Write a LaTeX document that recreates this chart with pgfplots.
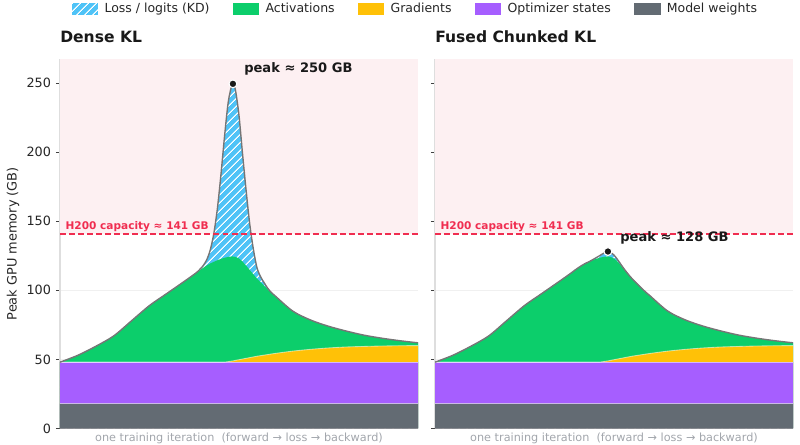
\documentclass[border=0pt]{standalone}
\usepackage{fontspec}
\setmainfont{DejaVu Sans}
\usepackage{pgfplots}
\pgfplotsset{compat=1.18}
\usepackage{pgfplotstable}
\usetikzlibrary{patterns.meta}

\definecolor{lossblue}{HTML}{4FC3F7}
\definecolor{actgreen}{HTML}{0CCE6B}
\definecolor{gradyellow}{HTML}{FFC107}
\definecolor{optpurple}{HTML}{A65EFF}
\definecolor{wgray}{HTML}{636B73}
\definecolor{capred}{HTML}{F02D50}
\definecolor{capshade}{HTML}{FDF0F2}
\definecolor{edgegray}{HTML}{767676}
\definecolor{xlab}{HTML}{A2A6AC}

\pgfplotstableread{
x W O Gr G Td Tf
0.00 18 48 48 48 48 48
0.05 18 48 48 53 53 53
0.10 18 48 48 59.5 59.5 59.5
0.15 18 48 48 67 67 67
0.20 18 48 48 78 78 78
0.25 18 48 48 89 89 89
0.30 18 48 48 98 98 98
0.35 18 48 48 107 107 107
0.38 18 48 48 112.5 112.6 112.5
0.39 18 48 48 114.5 115 114.5
0.40 18 48 48 116.3 117.9 116.3
0.41 18 48 48 118 122.2 118
0.42 18 48 48 119.5 129.5 119.5
0.43 18 48 48 120.7 141.6 120.7
0.44 18 48 48 121.8 160 122.1
0.45 18 48 48 122.8 184.9 123.6
0.46 18 48 48 123.6 212.5 125.1
0.47 18 48 48.4 124.2 236.4 126.7
0.48 18 48 48.8 124.5 248.8 127.8
0.483 18 48 48.9 124.5 249.5 128.1
0.49 18 48 49.3 124.2 245.1 127.5
0.50 18 48 49.8 123 226.5 125.5
0.51 18 48 50.3 120.7 198.5 122.2
0.52 18 48 50.8 117.8 172 118.5
0.53 18 48 51.3 114.7 148 114.9
0.54 18 48 51.8 111.6 130 111.6
0.55 18 48 52.3 108.6 116.6 108.6
0.56 18 48 52.7 105.9 110 105.9
0.57 18 48 53.1 103.3 105.6 103.3
0.58 18 48 53.5 100.8 101.6 100.8
0.59 18 48 53.9 98.4 98.5 98.4
0.60 18 48 54.3 96.2 96.2 96.2
0.65 18 48 56 85 85 85
0.70 18 48 57.3 78.5 78.5 78.5
0.75 18 48 58.3 74 74 74
0.80 18 48 59 70.5 70.5 70.5
0.85 18 48 59.4 67.5 67.5 67.5
0.90 18 48 59.7 65.3 65.3 65.3
0.95 18 48 59.9 63.5 63.5 63.5
1.00 18 48 60 62 62 62
}\memdata

\pgfplotsset{
  panel/.style={
    width=257.76pt, height=266.04pt, scale only axis,
    xmin=0, xmax=1, ymin=0, ymax=267.5,
    xtick=\empty,
    ytick={0,50,100,150,200,250},
    axis x line*=bottom, axis y line*=left,
    x axis line style={draw=black!35, line width=0.8pt, -},
    y axis line style={draw=black!13, line width=0.8pt, -},
    tick align=outside,
    major tick length=3pt,
    ytick style={black!75, line width=0.6pt},
    ymajorgrids, grid style={black!6, line width=0.6pt},
    tick label style={font=\fontsize{9.2}{10}\selectfont, text=black!85},
    /pgf/number format/assume math mode=true,
    title style={at={(axis description cs:0,1)}, anchor=base west, inner sep=0pt, yshift=5.8pt, font=\fontsize{11.2}{13}\selectfont\bfseries, text=black!90},
    xlabel style={at={(axis description cs:0.5,0)}, anchor=north, inner sep=0pt, yshift=-3.2pt, font=\fontsize{8.1}{10}\selectfont, text=xlab},
    xlabel={one training iteration~~(forward → loss → backward)},
  },
  lossstyle/.style={fill=lossblue, draw=none, postaction={pattern={Lines[angle=45,distance=4pt,line width=0.7pt]}, pattern color=white}},
  sep/.style={draw=white, line width=0.6pt, draw opacity=0.55, forget plot},
}

\newcommand{\panelbody}[1]{%
  \fill[capshade] (axis cs:0,141) rectangle (axis cs:1,267.5);
  \addplot[lossstyle, smooth] table[x=x, y=#1] {\memdata} \closedcycle;
  \addplot[fill=actgreen, draw=none, smooth] table[x=x, y=G] {\memdata} \closedcycle;
  \addplot[fill=gradyellow, draw=none, smooth] table[x=x, y=Gr] {\memdata} \closedcycle;
  \addplot[fill=optpurple, draw=none] table[x=x, y=O] {\memdata} \closedcycle;
  \addplot[fill=wgray, draw=none] table[x=x, y=W] {\memdata} \closedcycle;
  \addplot[sep] table[x=x, y=W] {\memdata};
  \addplot[sep] table[x=x, y=O] {\memdata};
  \addplot[sep, smooth] table[x=x, y=Gr] {\memdata};
  \addplot[draw=edgegray, line width=1pt, smooth, forget plot] table[x=x, y=#1] {\memdata};
  \addplot[draw=capred, line width=1.25pt, dash pattern=on 4.3pt off 2.2pt, forget plot] coordinates {(0,141) (1,141)};
  \node[anchor=base west, inner sep=0pt, font=\fontsize{7.6}{9}\selectfont\bfseries, text=capred] at (axis cs:0.015,144.2) {H200 capacity ≈ 141 GB};
}

\begin{document}
\begin{tikzpicture}
\path[use as bounding box] (0,0) rectangle (576pt,320.4pt);

\begin{axis}[panel,
  at={(43.2pt,11.9pt)}, anchor=south west,
  title={Dense KL},
  ylabel={Peak GPU memory (GB)},
  ylabel style={at={(axis description cs:-0.131,0.5)}, anchor=center, rotate=0, font=\fontsize{9.3}{11}\selectfont, text=black!85},
  legend style={at={(axis description cs:0.994,1.135)}, anchor=center, draw=none, fill=none,
    font=\fontsize{9}{10}\selectfont, text=black!85,
    /tikz/every odd column/.append style={column sep=2.5pt},
    /tikz/every even column/.append style={column sep=14.8pt}},
  legend columns=5,
  legend image code/.code={\path[#1] (0pt,-3.9pt) rectangle (19pt,4.3pt);},
]
\panelbody{Td}
\addplot[only marks, mark=*, mark size=2.8pt, mark options={fill=black!90, draw=white, line width=0.8pt}, forget plot] coordinates {(0.483,249.5)};
\node[anchor=west, inner sep=0pt, font=\fontsize{9.4}{11}\selectfont\bfseries, text=black!90] at (axis cs:0.514,260.5) {peak ≈ 250 GB};
\legend{Loss / logits (KD), Activations, Gradients, Optimizer states, Model weights}
\end{axis}

\begin{axis}[panel,
  at={(313.2pt,11.9pt)}, anchor=south west,
  title={Fused Chunked KL},
  yticklabels={},
]
\panelbody{Tf}
\addplot[only marks, mark=*, mark size=2.8pt, mark options={fill=black!90, draw=white, line width=0.8pt}, forget plot] coordinates {(0.483,128.1)};
\node[anchor=west, inner sep=0pt, font=\fontsize{9.4}{11}\selectfont\bfseries, text=black!90] at (axis cs:0.517,138.2) {peak ≈ 128 GB};
\end{axis}
\end{tikzpicture}
\end{document}
